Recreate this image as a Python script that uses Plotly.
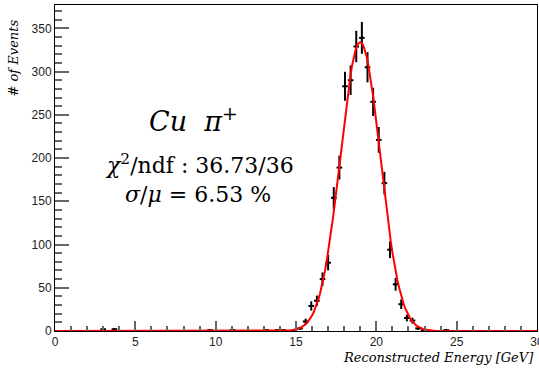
import numpy as np
import plotly.graph_objects as go

# ---- data ----
bin_centers = [3.0, 3.7, 9.65, 11.05, 13.15, 13.85, 14.2, 14.9, 15.25, 15.6, 15.95, 16.3,
               16.65, 17.0, 17.35, 17.7, 18.05, 18.4, 18.75, 19.1, 19.45, 19.8, 20.15,
               20.5, 20.85, 21.2, 21.55, 21.9, 22.25, 22.6, 22.95, 24.35]
counts = [2, 2, 1, 1, 1, 1, 1, 1, 3, 11, 29, 35,
          60, 79, 154, 189, 283, 290, 329, 339, 305, 265, 221,
          171, 94, 54, 31, 15, 12, 3, 1, 1]
bin_width = 0.35

# Gaussian fit parameters
fit_amp = 334.0
fit_mean = 19.0
fit_sigma = 1.24

x_ticks = [0, 5, 10, 15, 20, 25, 30]
y_ticks = [0, 50, 100, 150, 200, 250, 300, 350]

errors = [np.sqrt(c) for c in counts]
xf = np.linspace(0, 30, 301)
yf = fit_amp * np.exp(-0.5 * ((xf - fit_mean) / fit_sigma) ** 2)

fig = go.Figure()
fig.add_trace(go.Scatter(
    x=bin_centers, y=counts, mode="markers",
    marker=dict(size=1, color="black"),
    error_y=dict(type="data", array=errors, width=0, thickness=2, color="black"),
    error_x=dict(type="constant", value=bin_width / 2, width=0, thickness=2, color="black"),
    showlegend=False, hoverinfo="skip"))
fig.add_trace(go.Scatter(
    x=xf, y=yf, mode="lines", line=dict(color="#ff0000", width=2),
    showlegend=False, hoverinfo="skip"))

W, H = 539, 372
L, R, T, B = 55, 2, 5, 41
pw, ph = W - L - R, H - T - B

def px(xp):
    return (xp - L) / pw

def py(yp):
    return (H - B - yp) / ph

axis_common = dict(showgrid=False, zeroline=False, showline=True, linecolor="black",
                   linewidth=1, mirror=True, ticks="inside", tickcolor="#666666",
                   tickwidth=2, ticklabeloverflow="allow", automargin=False,
                   tickfont=dict(family="Liberation Sans", size=12, color="#222222"))

fig.update_layout(
    width=W, height=H,
    margin=dict(l=L, r=R, t=T, b=B, pad=0, autoexpand=False),
    paper_bgcolor="white", plot_bgcolor="white",
    xaxis=dict(range=[0, 30], tickvals=x_ticks, ticklen=10,
               minor=dict(dtick=1, ticklen=5, ticks="inside", tickcolor="#666666", tickwidth=2),
               **axis_common),
    yaxis=dict(range=[0, 377], tickvals=y_ticks, ticklen=14,
               minor=dict(dtick=10, ticklen=7, ticks="inside", tickcolor="#666666", tickwidth=2),
               **axis_common),
)

serif = "DejaVu Serif"
fig.add_annotation(x=px(193), y=py(120), xref="paper", yref="paper",
                   text="<i>Cu  π</i><sup>+</sup>", showarrow=False,
                   font=dict(family=serif, size=27, color="black"), xanchor="center", yanchor="middle")
fig.add_annotation(x=px(199), y=py(164), xref="paper", yref="paper",
                   text="<i>χ</i><sup>2</sup>/ndf : 36.73/36", showarrow=False,
                   font=dict(family=serif, size=22, color="black"), xanchor="center", yanchor="middle")
fig.add_annotation(x=px(198), y=py(194), xref="paper", yref="paper",
                   text="<i>σ</i>/<i>μ</i> = 6.53 %", showarrow=False,
                   font=dict(family=serif, size=22, color="black"), xanchor="center", yanchor="middle")
fig.add_annotation(x=px(536), y=py(357), xref="paper", yref="paper",
                   text="<i>Reconstructed Energy [GeV]</i>", showarrow=False,
                   font=dict(family=serif, size=13, color="black"), xanchor="right", yanchor="middle")
fig.add_annotation(x=px(13), y=py(18), xref="paper", yref="paper", textangle=-90,
                   text="<i># of Events</i>", showarrow=False,
                   font=dict(family=serif, size=13, color="black"), xanchor="center", yanchor="top")

fig.write_html("out.html", config={"displayModeBar": False},
               post_script="document.body.style.margin='0';")
